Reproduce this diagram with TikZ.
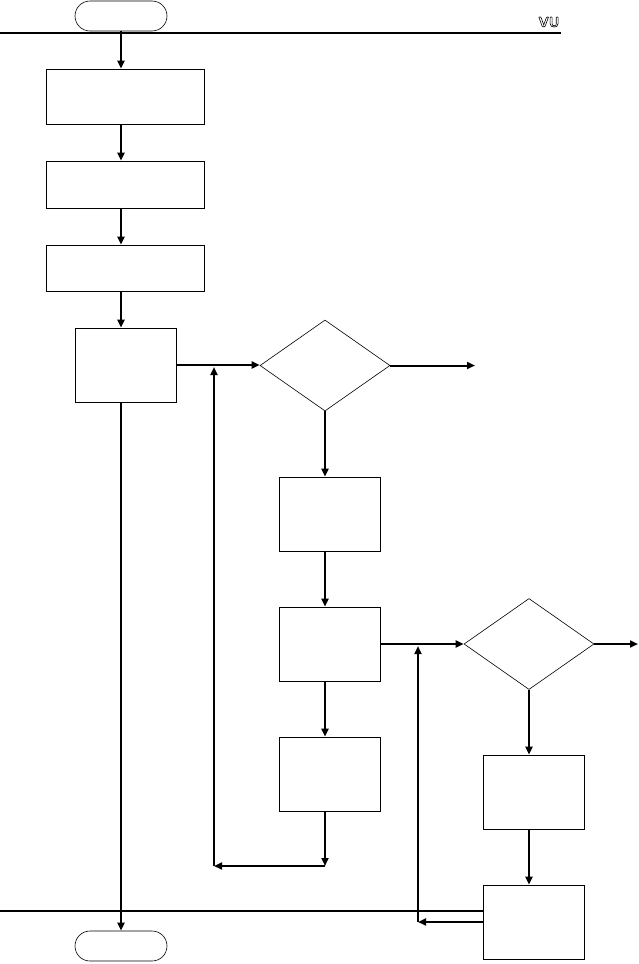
\documentclass[tikz,border=0pt]{standalone}
\usetikzlibrary{shapes.geometric,arrows.meta}

\tikzset{
  caja/.style={rectangle, draw, line width=0.8pt, inner sep=0pt},
  rombo/.style={diamond, draw, line width=0.6pt, inner sep=0pt, aspect=1.43,
    minimum width=130pt, minimum height=91pt},
  term/.style={rectangle, rounded corners=15pt, draw, line width=0.6pt,
    minimum width=92pt, minimum height=30pt, inner sep=0pt},
  flecha/.style={line width=2pt, -{Triangle[length=8pt,width=7pt]}},
  linea/.style={line width=2pt}
}

\newcommand{\hueco}[1]{\special{pdf:literal direct 1 Tr 0.6 w}#1\special{pdf:literal direct 0 Tr}}

\begin{document}
\begin{tikzpicture}[x=1pt,y=-1pt]
\useasboundingbox (0,0) rectangle (639,964);

% Terminales y lineas de borde
\node[term] (ini) at (121,16) {};
\node[term] (fin) at (121,946) {};
\draw[linea] (0,33) -- (561,33);
\draw[linea] (0,911) -- (483,911);
\node[font=\sffamily\bfseries\fontsize{14}{14}\selectfont, inner sep=0pt] (vu) at (549,22) {\hueco{VU}};

% Columna izquierda
\node[caja, minimum width=158pt, minimum height=55pt] (c1) at (125,96.5) {};
\node[caja, minimum width=158pt, minimum height=47pt] (c2) at (125,184.5) {};
\node[caja, minimum width=158pt, minimum height=46pt] (c3) at (125,268) {};
\node[caja, minimum width=101pt, minimum height=74pt] (c4) at (125.5,365) {};

% Rombos
\node[rombo] (r1) at (325,365.5) {};
\node[rombo] (r2) at (529,644) {};

% Cajas de la derecha
\foreach \n/\x/\y in {c5/329.5/514, c6/329.5/644, c7/329.5/774, c8/534/792, c9/534/922}
	\node[caja, minimum width=101pt, minimum height=74pt] (\n) at (\x,\y) {};

% Conectores
\draw[flecha] (ini.south) -- (ini.south |- c1.north);
\draw[flecha] (ini |- c1.south) -- (ini |- c2.north);
\draw[flecha] (ini |- c2.south) -- (ini |- c3.north);
\draw[flecha] (ini |- c3.south) -- (ini |- c4.north);
\draw[flecha] (ini |- c4.south) -- (fin.north);

\draw[flecha] (c4.east) -- (c4.east -| r1.west);
\coordinate (s1) at (475,365.5);
\draw[flecha] (r1.east) -- (s1);
\draw[flecha] (r1.south) -- (r1.south |- c5.north);
\draw[flecha] (r1 |- c5.south) -- (r1 |- c6.north);
\draw[flecha] (r1 |- c6.south) -- (r1 |- c7.north);

% Retorno al primer rombo
\coordinate (v1) at (325,866);
\coordinate (v2) at (214,866);
\coordinate (v3) at (214,367);
\draw[flecha] (r1 |- c7.south) -- (v1);
\draw[flecha] (v1) -- (v2);
\draw[flecha] (v2) -- (v3);

\draw[flecha] (c6.east) -- (c6.east -| r2.west);
\coordinate (s2) at (638,644);
\draw[flecha] (r2.east) -- (s2);
\draw[flecha] (r2.south) -- (r2.south |- c8.north);
\draw[flecha] (r2 |- c8.south) -- (r2 |- c9.north);

% Retorno al segundo rombo
\coordinate (v4) at (418,922);
\coordinate (v5) at (418,646);
\draw[flecha] (c9.west) -- (v4);
\draw[flecha] (v4) -- (v5);
\end{tikzpicture}
\end{document}
